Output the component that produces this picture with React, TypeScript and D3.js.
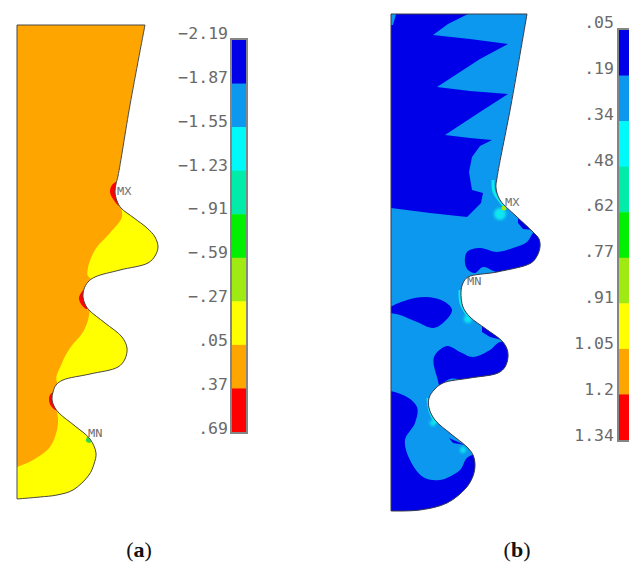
import React from "react";
import * as d3 from "d3";

type Pt = [number, number];

// legend
const bandColors = ["#0000e8", "#0c98ee", "#00fafa", "#00eca8", "#00f000", "#9eea12", "#ffff00", "#ffa500", "#ff0000"];
const ticksA = ["−2.19", "−1.87", "−1.55", "−1.23", "−.91", "−.59", "−.27", ".05", ".37", ".69"];
const ticksB = [".05", ".19", ".34", ".48", ".62", ".77", ".91", "1.05", "1.2", "1.34"];

// panel (a): outer profile, from top right down to the bottom left corner
const profileA: Pt[] = [
	[145, 25], [130, 105], [118, 176], [116, 184], [115, 192], [117, 201], [121, 208], [134, 218], [147, 228],
	[155, 237], [158, 247], [155, 256], [148, 263], [120, 270], [95, 277], [88, 282], [84, 289], [83, 297], [85, 304],
	[89, 310], [105, 323], [122, 337], [127, 348], [125, 359], [118, 367], [90, 374], [63, 380], [56, 385], [53, 392], [52, 399],
	[54, 406], [59, 413], [75, 426], [90, 439], [96, 453], [94, 464], [89, 475], [73, 490], [57, 495], [40, 497], [17, 499],
];
const cornerA: Pt = [17, 25];
const yellowA1: Pt[] = [[121, 207], [122, 217], [110, 233], [97, 247], [91, 258], [88, 268], [88, 276], [110, 285], [170, 270], [170, 210]];
const yellowA2: Pt[] = [[90, 309], [88, 320], [83, 332], [70, 348], [62, 363], [57, 382], [100, 395], [140, 360], [135, 320], [105, 305]];
const yellowA3: Pt[] = [[57, 410], [58, 420], [57, 430], [50, 447], [33, 460], [17, 467], [5, 470], [5, 510], [110, 510], [110, 440], [70, 410]];
const redA: Pt[][] = [
	[[117, 182], [112, 185], [110, 192], [113, 199], [120, 206], [124, 195]],
	[[85, 289], [81, 293], [79, 298], [81, 304], [87, 309], [90, 298]],
	[[54, 392], [50, 395], [49, 400], [51, 406], [56, 410], [58, 400]],
];
const greenA: Pt[] = [[88, 436], [92, 438], [90, 443], [86, 441]];

// panel (b)
const profileB: Pt[] = [
	[527, 14], [511, 105], [497, 178], [496, 188], [500, 200], [516, 216], [533, 232],
	[539, 239], [540, 247], [537, 256], [531, 263], [497, 272], [468, 277], [463, 283], [461, 292], [463, 307], [470, 317],
	[486, 329], [502, 341], [507, 349], [508, 357], [505, 367], [498, 373], [470, 378], [443, 383], [434, 390], [429, 398],
	[429, 408], [435, 420], [451, 434], [467, 447], [473, 455], [475, 465], [473, 476], [466, 488], [447, 503], [420, 510], [391, 511],
];
const cornerB: Pt = [391, 14];
// spiky zone at the top stays straight-edged, the rest are rounded contours
const darkSharpB: Pt[][] = [
	[[394, 14], [468, 14], [448, 24], [433, 35], [470, 39], [508, 44], [480, 59], [437, 87], [470, 91], [508, 94], [480, 112], [445, 135], [470, 138], [492, 140], [480, 146], [472, 157], [469, 172], [472, 190], [483, 193], [481, 203], [467, 217], [430, 213], [391, 208], [385, 100], [385, 14]],
	[[518, 218], [534, 230], [523, 229], [518, 223]],
	[[482, 325], [502, 340], [490, 337], [482, 332]],
	[[449, 438], [465, 445], [453, 443]],
];
const darkRoundB: Pt[][] = [
	[[535, 232], [527, 242], [513, 248], [497, 252], [480, 248], [467, 252], [465, 263], [468, 270], [475, 273], [483, 267], [497, 272], [550, 275], [555, 250]],
	[[385, 311], [407, 300], [427, 297], [445, 302], [452, 310], [443, 323], [433, 328], [417, 322], [400, 315]],
	[[447, 346], [460, 352], [473, 357], [490, 350], [500, 342], [520, 345], [520, 380], [443, 390], [437, 377], [434, 357]],
	[[380, 393], [403, 395], [417, 407], [415, 423], [405, 440], [410, 460], [423, 477], [440, 480], [460, 470], [468, 457], [490, 455], [490, 525], [380, 525]],
];
const lightPatchB: Pt[] = [[441, 386], [450, 379], [462, 380], [472, 384], [450, 390]];
const lightCornerB: Pt[] = [[391, 14], [396, 14], [393, 25], [391, 25]];
const cyanStripsB: Pt[][] = [
	[[493, 180], [494, 192], [500, 201], [505, 207]],
	[[460, 290], [461, 303], [468, 316]],
	[[428, 398], [430, 411], [436, 423]],
];
const cyanSpotsB: [number, number, number][] = [[500, 214, 6], [468, 319, 4], [433, 423, 3], [463, 450, 3]];
const greenB: Pt = [504, 208];

const x = d3.scaleIdentity();
const y = d3.scaleIdentity();
const smooth = d3.line<Pt>().x((d) => x(d[0])).y((d) => y(d[1])).curve(d3.curveCatmullRom.alpha(0.5));
const blob = d3.line<Pt>().x((d) => x(d[0])).y((d) => y(d[1])).curve(d3.curveCatmullRomClosed.alpha(0.5));
const poly = d3.line<Pt>().x((d) => x(d[0])).y((d) => y(d[1]));

const outlinePath = (profile: Pt[], corner: Pt) => `${smooth(profile)}L${x(corner[0])},${y(corner[1])}Z`;

const TEXT = "#6a6a6a";
const MONO = "'DejaVu Sans Mono', monospace";
const BLUE = bandColors[0];
const LIGHT = bandColors[1];

function Legend({ labels, barX, barW, barTop, barBottom, tickTop, tickBottom, labelX }: {
	labels: string[]; barX: number; barW: number; barTop: number; barBottom: number; tickTop: number; tickBottom: number; labelX: number;
}) {
	const band = d3.scaleBand<number>().domain(d3.range(bandColors.length)).range([barTop, barBottom]);
	const tick = d3.scalePoint<string>().domain(labels).range([tickTop, tickBottom]);
	return (
		<g>
			{bandColors.map((c, i) => (
				<rect key={c} x={barX} y={band(i)} width={barW} height={band.bandwidth() + 0.5} fill={c} />
			))}
			<rect x={barX - 1} y={barTop - 1} width={barW + 2} height={barBottom - barTop + 2} fill="none" stroke="#858585" strokeWidth={2} />
			{labels.map((l) => (
				<text key={l} x={labelX} y={tick(l)} dy="0.36em" textAnchor="end" fontFamily={MONO} fontSize={16.5} fill={TEXT}>{l}</text>
			))}
		</g>
	);
}

const Tag = ({ px, py, t }: { px: number; py: number; t: string }) => (
	<text x={px} y={py} dy="0.36em" fontFamily={MONO} fontSize={10.5} fill="#707070" textLength={t.length * 7.2} lengthAdjust="spacingAndGlyphs">{t}</text>
);

const Caption = ({ px, t }: { px: number; t: string }) => (
	<text x={px} y={557} textAnchor="middle" fontFamily="'Liberation Serif', serif" fontSize={22} fill="#111">
		(<tspan fontWeight="bold">{t}</tspan>)
	</text>
);

export default function App() {
	const dA = outlinePath(profileA, cornerA);
	const dB = outlinePath(profileB, cornerB);
	return (
		<svg width={629} height={563} style={{ position: "absolute", left: 0, top: 0, background: "#fff" }}>
			<defs>
				<clipPath id="clipA"><path d={dA} /></clipPath>
				<clipPath id="clipB"><path d={dB} /></clipPath>
				<filter id="soft"><feGaussianBlur stdDeviation={0.5} /></filter>
				<filter id="softer"><feGaussianBlur stdDeviation={1.5} /></filter>
			</defs>

			{/* panel a */}
			<path d={dA} fill="#ffa500" />
			<g clipPath="url(#clipA)">
				<g filter="url(#soft)">
					{[yellowA1, yellowA2, yellowA3].map((r, i) => <path key={i} d={smooth(r) + "Z"} fill="#ffff00" />)}
					{redA.map((r, i) => <path key={i} d={blob(r)!} fill="#ff0000" />)}
					<path d={blob(greenA)!} fill="#30d850" />
				</g>
			</g>
			<path d={dA} fill="none" stroke="#4a4a4a" strokeWidth={1} />
			<Tag px={117} py={191} t="MX" />
			<Tag px={88} py={433} t="MN" />
			<Legend labels={ticksA} barX={232} barW={14} barTop={40} barBottom={432} tickTop={33} tickBottom={428} labelX={228} />

			{/* panel b */}
			<path d={dB} fill={LIGHT} />
			<g clipPath="url(#clipB)">
				<g filter="url(#soft)">
					{darkSharpB.map((r, i) => <path key={i} d={poly(r) + "Z"} fill={BLUE} />)}
					{darkRoundB.map((r, i) => <path key={i} d={blob(r)!} fill={BLUE} />)}
					<path d={blob(lightPatchB)!} fill={LIGHT} />
					<path d={poly(lightCornerB) + "Z"} fill={LIGHT} />
				</g>
				<g filter="url(#softer)">
					{cyanSpotsB.map(([cx, cy, r]) => <circle key={cx} cx={x(cx)} cy={y(cy)} r={r} fill="#10e8f0" />)}
				</g>
				{cyanStripsB.map((r, i) => <path key={i} d={smooth(r)!} fill="none" stroke="#10e8ea" strokeWidth={3} />)}
				<circle cx={x(greenB[0])} cy={y(greenB[1])} r={2.5} fill="#9eea12" />
			</g>
			<path d={dB} fill="none" stroke="#3a3a4a" strokeWidth={1} />
			<Tag px={505} py={202} t="MX" />
			<Tag px={467} py={281} t="MN" />
			<Legend labels={ticksB} barX={619} barW={14} barTop={30} barBottom={440} tickTop={22} tickBottom={435} labelX={614} />

			{/* captions */}
			<Caption px={139} t="a" />
			<Caption px={517} t="b" />
		</svg>
	);
}
